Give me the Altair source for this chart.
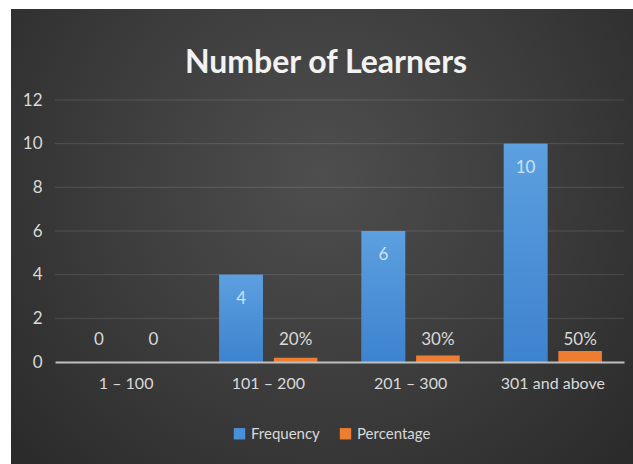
import altair as alt
import pandas as pd

# Chart data
categories = ["1 – 100", "101 – 200", "201 – 300", "301 and above"]
series = ["Frequency", "Percentage"]
frequency = [0, 4, 6, 10]
percentage = [0, 0.2, 0.3, 0.5]
frequency_labels = ["0", "4", "6", "10"]
percentage_labels = ["0", "20%", "30%", "50%"]
y_ticks = [0, 2, 4, 6, 8, 10, 12]
chart_title = "Number of Learners"

rows = []
for i, cat in enumerate(categories):
    rows.append({"category": cat, "series": "Frequency", "value": frequency[i],
                 "label": frequency_labels[i]})
    rows.append({"category": cat, "series": "Percentage", "value": percentage[i],
                 "label": percentage_labels[i]})
df = pd.DataFrame(rows)

FONT = "Lato"
LABEL_COLOR = "#d9d9d9"
BLUE = "#4a90d9"
ORANGE = "#ed7d31"
PLOT_W, PLOT_H = 569, 262
PAD = {"left": 55, "top": 100, "right": 9, "bottom": 102}

x_scale = alt.Scale(domain=categories, paddingInner=0.31, paddingOuter=0.155)
off_scale = alt.Scale(domain=series, paddingInner=0.2, paddingOuter=0)
y_scale = alt.Scale(domain=[0, 12], nice=False)

x_axis = alt.Axis(labelAngle=0, ticks=False, domainColor="#bfbfbf",
                  domainWidth=2, labelPadding=13, labelFontSize=16,
                  labelColor=LABEL_COLOR, labelFont=FONT, zindex=1)
y_axis = alt.Axis(values=y_ticks, grid=False, domain=False, ticks=False,
                  labelPadding=13, labelFontSize=17, labelColor=LABEL_COLOR,
                  labelFont=FONT, zindex=1)

x_enc = alt.X("category:N", sort=categories, scale=x_scale, title=None, axis=x_axis)
off_enc = alt.XOffset("series:N", scale=off_scale)
y_enc = alt.Y("value:Q", scale=y_scale, title=None, axis=y_axis)

# Dark radial backdrop behind everything except the thin white margin
backdrop = alt.Chart(alt.Data(values=[{"k": 1}])).mark_rect(
    fill=alt.Gradient(
        gradient="radial",
        stops=[alt.GradientStop(color="#4e4e4e", offset=0),
               alt.GradientStop(color="#3b3b3b", offset=0.5),
               alt.GradientStop(color="#262626", offset=1)],
        x1=0.5, y1=0.4, r1=0, x2=0.5, y2=0.4, r2=0.75,
    )
).encode(
    x=alt.value(-(PAD["left"] - 11)),
    x2=alt.value(PLOT_W + PAD["right"]),
    y=alt.value(-(PAD["top"] - 9)),
    y2=alt.value(PLOT_H + PAD["bottom"]),
)

# Chart heading drawn as a text mark so it sits over the backdrop
heading = alt.Chart(alt.Data(values=[{"t": chart_title}])).mark_text(
    font=FONT, fontSize=32, fontWeight="bold", color="#f2f2f2",
    align="center", baseline="middle",
).encode(
    x=alt.value(271),
    y=alt.value(-37),
    text="t:N",
)

grid = alt.Chart(pd.DataFrame({"value": y_ticks[1:]})).mark_rule(
    color="#ffffff", opacity=0.13, strokeWidth=1
).encode(y=y_enc)

bars = alt.Chart(df).mark_bar().encode(
    x=x_enc,
    xOffset=off_enc,
    y=y_enc,
    color=alt.Color("series:N", scale=alt.Scale(domain=series, range=[BLUE, ORANGE]),
                    legend=alt.Legend(orient="none", legendX=177, legendY=326,
                                      direction="horizontal", title=None,
                                      symbolType="square", symbolSize=130,
                                      symbolStrokeWidth=0, labelFontSize=15,
                                      labelColor=LABEL_COLOR, labelFont=FONT,
                                      columnPadding=18, labelOffset=4)),
)

# Vertical shading on the frequency bars
blue_shade = alt.Chart(df).transform_filter(
    alt.datum.series == "Frequency"
).mark_bar(
    fill=alt.Gradient(
        gradient="linear",
        stops=[alt.GradientStop(color="#5ca0e0", offset=0),
               alt.GradientStop(color="#3d83ce", offset=1)],
        x1=0, y1=0, x2=0, y2=1,
    )
).encode(x=x_enc, xOffset=off_enc, y=y_enc)

# Labels inside the top of non-zero frequency bars
inside_labels = alt.Chart(df).transform_filter(
    (alt.datum.series == "Frequency") & (alt.datum.value > 0)
).mark_text(dy=24, fontSize=17, font=FONT, color="#cfe1f5").encode(
    x=x_enc, xOffset=off_enc, y=y_enc, text="label:N",
)

# Labels sitting above the baseline for zero values and percentages
outside_labels = alt.Chart(df).transform_filter(
    (alt.datum.series == "Percentage") | (alt.datum.value == 0)
).mark_text(dy=-22, fontSize=17, font=FONT, color=LABEL_COLOR).encode(
    x=x_enc, xOffset=off_enc,
    y=alt.Y(datum=0, scale=y_scale, title=None, axis=y_axis),
    text="label:N",
)

chart = alt.layer(
    backdrop, heading, grid, bars, blue_shade, inside_labels, outside_labels
).properties(
    width=PLOT_W,
    height=PLOT_H,
    padding=PAD,
    autosize=alt.AutoSizeParams(type="none"),
    background="white",
).configure_view(stroke=None)

chart.save("out.html", embed_options={"renderer": "svg", "actions": False})
